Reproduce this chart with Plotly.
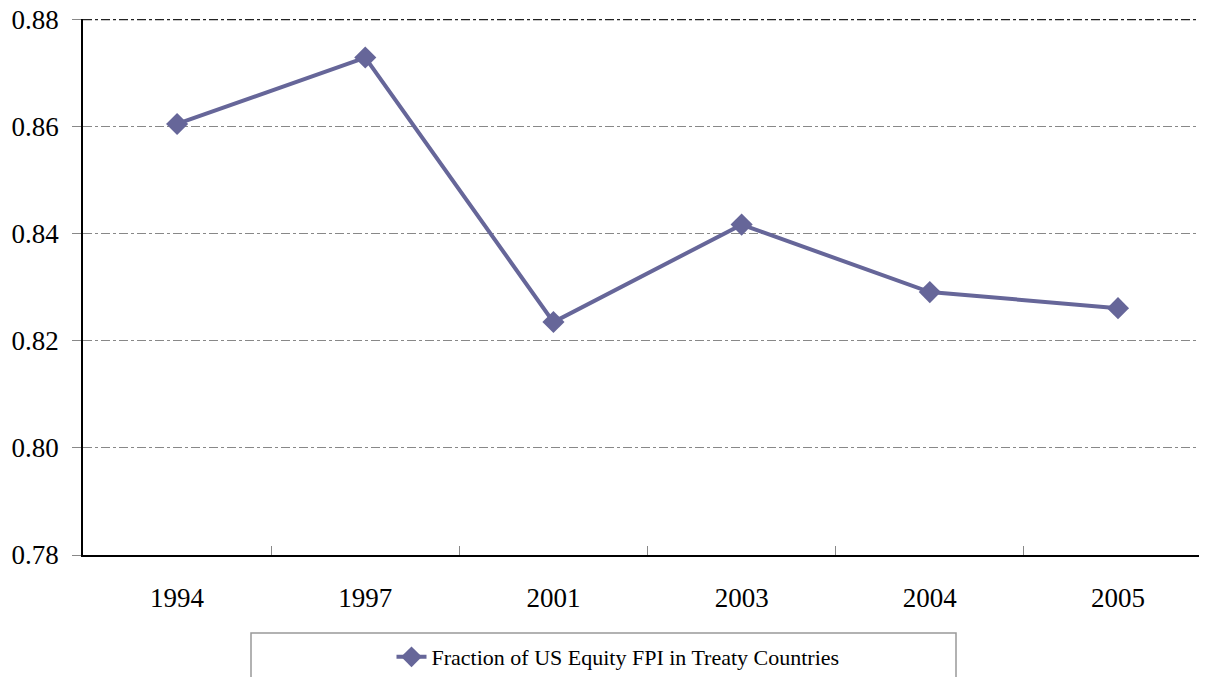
import plotly.graph_objects as go

years = ["1994", "1997", "2001", "2003", "2004", "2005"]
fraction = [0.8605, 0.8729, 0.8235, 0.8417, 0.8291, 0.8261]
series_name = "Fraction of US Equity FPI in Treaty Countries"
y_ticks = [0.78, 0.80, 0.82, 0.84, 0.86, 0.88]

OFF = 8  # page body margin
W, H = 1207 - OFF, 677 - OFF
# plot area in page pixels: left 83, top 19, bottom 555, right 1207
L, T = 83 - OFF, 19 - OFF
B = H - (555 - OFF)
R = 0
pw = W - L - R
ph = H - T - B

def px_x(p):
    return (p - OFF - L) / pw

def px_y(p):
    return (H - B - (p - OFF)) / ph

font = "Liberation Serif, Times New Roman, serif"
color = "#666699"

fig = go.Figure()
fig.add_trace(go.Scatter(
    x=years, y=fraction, mode="lines+markers", name=series_name,
    line=dict(color=color, width=4),
    marker=dict(symbol="diamond", size=17, color=color),
))

fig.update_layout(
    width=W, height=H,
    margin=dict(l=L, r=R, t=T, b=B, pad=0, autoexpand=False),
    paper_bgcolor="white", plot_bgcolor="white",
    font=dict(family=font, size=27, color="black"),
    showlegend=True,
    legend=dict(orientation="h", x=px_x(618), xanchor="center",
                y=px_y(657), yanchor="middle",
                font=dict(family=font, size=22, color="black"),
                bgcolor="rgba(0,0,0,0)"),
    xaxis=dict(type="category", range=[-0.5, 5.473], automargin=False,
               showline=True, linecolor="black", linewidth=2,
               ticks="inside", tickson="boundaries", ticklen=9,
               tickcolor="#888888", tickwidth=1,
               showgrid=False, ticklabelstandoff=18,
               tickfont=dict(family=font, size=27)),
    yaxis=dict(range=[0.78, 0.8801], tickvals=y_ticks, automargin=False,
               tickformat=".2f", ticklabeloverflow="allow",
               showline=True, linecolor="black", linewidth=1.5,
               ticks="outside", ticklen=9, tickcolor="#888888",
               showgrid=True, gridcolor="#888888", gridwidth=1,
               griddash="dashdot", zeroline=False,
               ticklabelstandoff=8,
               tickfont=dict(family=font, size=27)),
)

fig.add_shape(type="line", xref="paper", yref="y", x0=0, x1=1,
              y0=0.88, y1=0.88,
              line=dict(color="#222222", width=1.5, dash="dashdot"))
fig.add_shape(type="rect", xref="paper", yref="paper",
              x0=px_x(251), x1=px_x(956), y0=px_y(633), y1=px_y(690),
              line=dict(color="#999999", width=1.5), fillcolor="rgba(0,0,0,0)")

fig.write_html("out.html")
